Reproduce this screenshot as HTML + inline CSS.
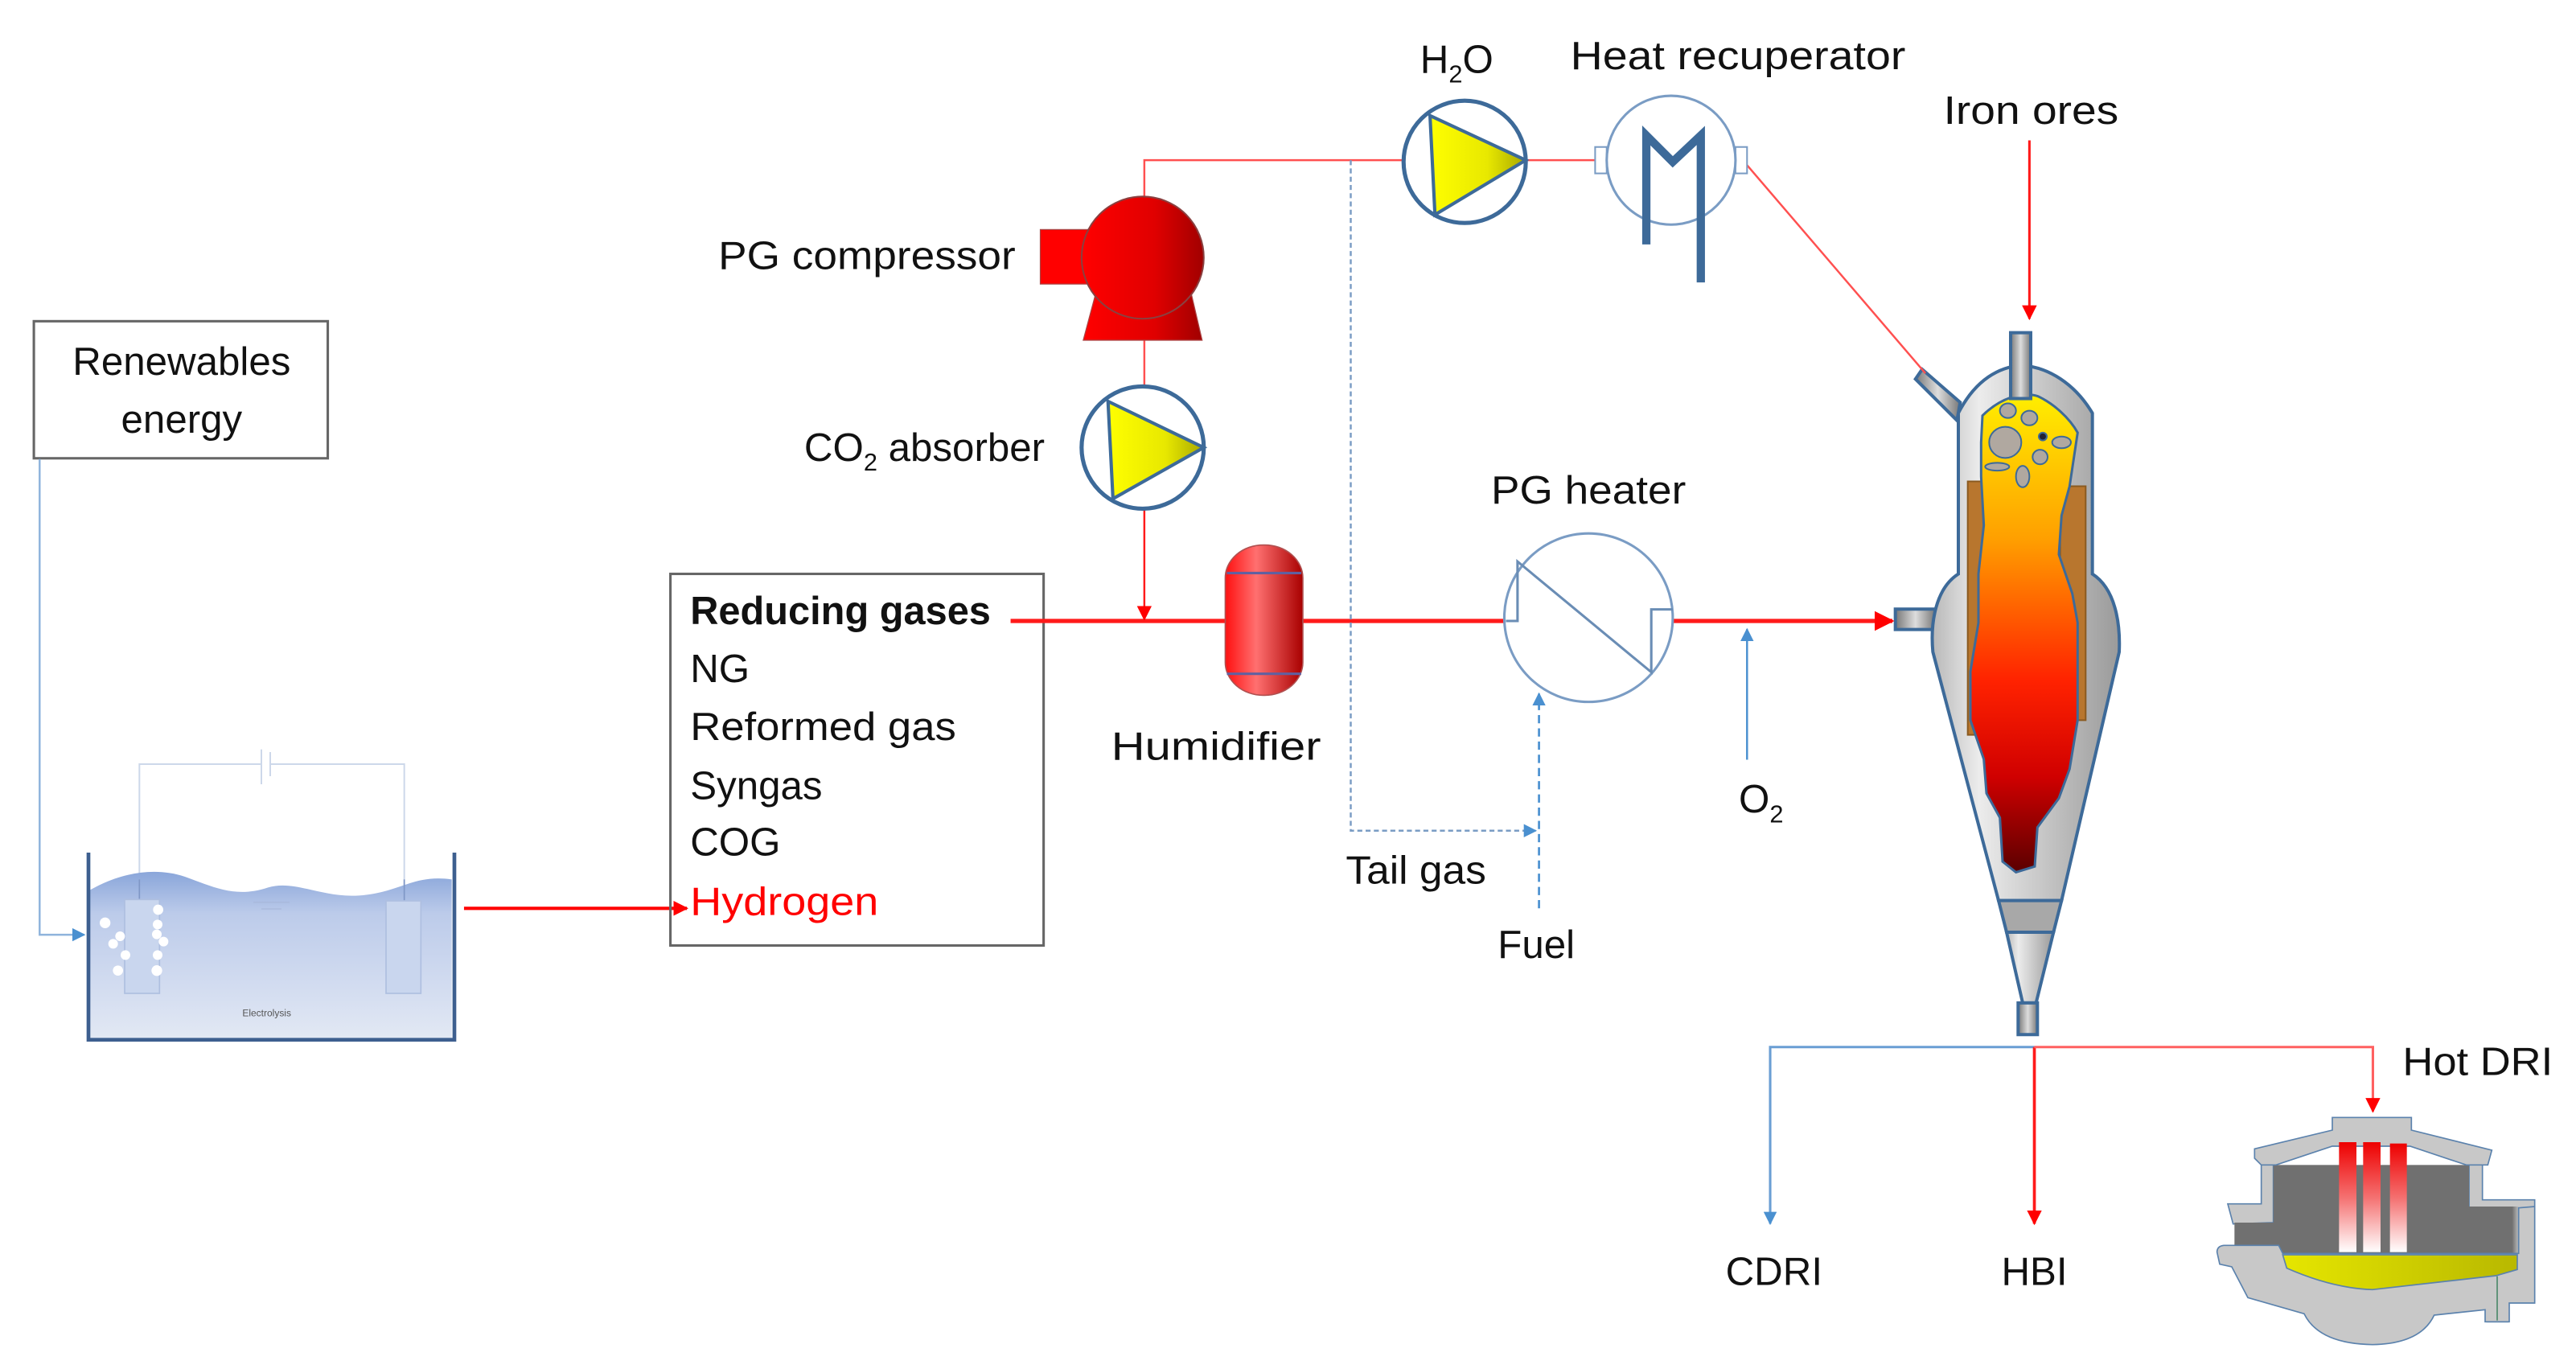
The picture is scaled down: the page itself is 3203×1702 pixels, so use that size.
<!DOCTYPE html>
<html><head><meta charset="utf-8"><style>
html,body{margin:0;padding:0;background:#fff;}
svg{display:block;}
text{font-family:"Liberation Sans",sans-serif;fill:#111;}
</style></head><body>
<svg width="3203" height="1702" viewBox="0 0 3203 1702" xmlns="http://www.w3.org/2000/svg">
<defs>
<linearGradient id="red" x1="0" x2="1" y1="0" y2="0"><stop offset="0" stop-color="#ff0000"/><stop offset="0.6" stop-color="#e00000"/><stop offset="1" stop-color="#a00000"/></linearGradient>
<linearGradient id="hum" x1="0" x2="1"><stop offset="0" stop-color="#ff1010"/><stop offset="0.4" stop-color="#ff7070"/><stop offset="1" stop-color="#a80000"/></linearGradient>
<linearGradient id="yel" x1="0" x2="1"><stop offset="0" stop-color="#ffff00"/><stop offset="0.6" stop-color="#e8e800"/><stop offset="1" stop-color="#a8a800"/></linearGradient>
<linearGradient id="hot" x1="0" x2="0" y1="0" y2="1"><stop offset="0" stop-color="#ffee00"/><stop offset="0.3" stop-color="#ffa000"/><stop offset="0.6" stop-color="#ff2200"/><stop offset="0.8" stop-color="#d00000"/><stop offset="1" stop-color="#5a0000"/></linearGradient>
<linearGradient id="shell" x1="0" x2="1"><stop offset="0" stop-color="#b8b8b8"/><stop offset="0.25" stop-color="#ececec"/><stop offset="1" stop-color="#9a9a9a"/></linearGradient>
<linearGradient id="pipe" x1="0" x2="1"><stop offset="0" stop-color="#777"/><stop offset="0.5" stop-color="#ddd"/><stop offset="1" stop-color="#777"/></linearGradient>
<linearGradient id="water" x1="0" x2="0" y1="0" y2="1"><stop offset="0" stop-color="#8aa6da"/><stop offset="0.25" stop-color="#bccbea"/><stop offset="1" stop-color="#e2e8f4"/></linearGradient>
<linearGradient id="elec" x1="0" x2="0" y1="0" y2="1"><stop offset="0" stop-color="#ee0000"/><stop offset="0.5" stop-color="#f47070"/><stop offset="1" stop-color="#ffffff"/></linearGradient>
<linearGradient id="melt" x1="0" x2="1"><stop offset="0" stop-color="#e6e600"/><stop offset="1" stop-color="#b8b800"/></linearGradient>
<linearGradient id="dark" x1="0" x2="1"><stop offset="0" stop-color="#707070"/><stop offset="0.85" stop-color="#707070"/><stop offset="1" stop-color="#d0d0d0"/></linearGradient>
<marker id="ar" viewBox="0 0 10 10" refX="9" refY="5" markerWidth="9" markerHeight="9" orient="auto" markerUnits="userSpaceOnUse"><path d="M0,0 L10,5 L0,10 Z" fill="#ff0000"/></marker>
<marker id="arB" viewBox="0 0 10 10" refX="9" refY="5" markerWidth="8" markerHeight="8" orient="auto" markerUnits="userSpaceOnUse"><path d="M0,0 L10,5 L0,10 Z" fill="#4a90d0"/></marker>
<marker id="arL" viewBox="0 0 10 10" refX="9" refY="5" markerWidth="12" markerHeight="12" orient="auto" markerUnits="userSpaceOnUse"><path d="M0,0 L10,5 L0,10 Z" fill="#ff0000"/></marker>
</defs>

<!-- Electrolysis -->
<g transform="translate(80,900) scale(0.33333)">
  <path d="M280,650 L280,150 L735,150 M768,150 L1268,150 L1268,650" fill="none" stroke="#cdd8ea" stroke-width="6"/>
  <line x1="735" y1="95" x2="735" y2="225" stroke="#cdd8ea" stroke-width="6"/>
  <line x1="768" y1="105" x2="768" y2="195" stroke="#cdd8ea" stroke-width="6"/>
  <path d="M95,620 C200,560 330,530 450,570 C560,610 640,650 760,610 C860,580 960,650 1100,640 C1250,630 1300,560 1445,580 L1445,1172 L95,1172 Z" fill="url(#water)"/>
  <line x1="280" y1="580" x2="280" y2="660" stroke="#7f97c6" stroke-width="5"/>
  <line x1="1268" y1="580" x2="1268" y2="660" stroke="#7f97c6" stroke-width="5"/>
  <rect x="225" y="655" width="130" height="350" fill="#c9d6ee" stroke="#aebfe0" stroke-width="5"/>
  <rect x="1200" y="660" width="130" height="345" fill="#c9d6ee" stroke="#aebfe0" stroke-width="5"/>
  <line x1="705" y1="665" x2="840" y2="665" stroke="#a8b8dc" stroke-width="4"/>
  <line x1="735" y1="690" x2="810" y2="690" stroke="#a8b8dc" stroke-width="4"/>
  <g fill="#fff">
    <circle cx="152" cy="742" r="20"/><circle cx="208" cy="792" r="18"/><circle cx="182" cy="820" r="18"/>
    <circle cx="228" cy="862" r="18"/><circle cx="200" cy="920" r="19"/><circle cx="350" cy="693" r="19"/>
    <circle cx="348" cy="748" r="18"/><circle cx="345" cy="785" r="18"/><circle cx="370" cy="812" r="18"/>
    <circle cx="348" cy="862" r="18"/><circle cx="345" cy="920" r="20"/>
  </g>
  <path d="M90,480 L90,1178 L1455,1178 L1455,480" fill="none" stroke="#3d5f8f" stroke-width="14"/>
  <text x="755" y="1090" font-size="36" text-anchor="middle" style="fill:#555">Electrolysis</text>
</g>

<!-- Hot DRI furnace -->
<g transform="translate(2750,1300) scale(0.33333)" stroke="#5b82ad" stroke-width="5">
  <path d="M60,590 L185,590 L185,440 L230,440 L230,660 L80,665 Z" fill="#c8c8c8"/>
  <path d="M960,440 L1010,440 L1010,575 L1205,575 L1205,610 L1150,610 L1150,775 L960,775 Z" fill="#c8c8c8"/>
  <rect x="230" y="445" width="730" height="330" fill="#707070" stroke="none"/>
  <rect x="85" y="660" width="150" height="115" fill="#707070" stroke="none"/>
  <rect x="955" y="600" width="195" height="175" fill="url(#dark)" stroke="none"/>
  <path d="M160,385 L450,315 L450,268 L745,268 L745,315 L1045,390 L1030,445 L950,445 L740,375 L450,375 L240,445 L185,445 L160,420 Z" fill="#c8c8c8"/>
  <rect x="475" y="360" width="65" height="410" fill="url(#elec)" stroke="none"/>
  <rect x="565" y="360" width="65" height="410" fill="url(#elec)" stroke="none"/>
  <rect x="665" y="365" width="63" height="405" fill="url(#elec)" stroke="none"/>
  <path d="M20,770 Q20,748 45,745 L250,745 L265,775 L1145,775 L1145,605 L1205,600 L1205,960 L1110,960 L1110,1030 L1020,1030 L1020,985 L830,1005 Q780,1112 600,1115 Q400,1112 345,1000 L135,940 L75,825 L30,815 Z" fill="#c8c8c8"/>
  <path d="M265,780 L1140,780 L1140,835 L1060,858 L600,910 Q450,905 280,830 Z" fill="url(#melt)"/>
  <line x1="1065" y1="860" x2="1065" y2="1025" stroke="#4c8a6a" stroke-width="5"/>
  <line x1="1025" y1="1030" x2="1108" y2="1030" stroke="#5b82ad"/>
</g>

<!-- DRI shaft furnace -->
<g transform="translate(2300,350) scale(0.33333,0.606)">
  <polygon points="245,200 270,180 412,248 400,285" fill="url(#pipe)" stroke="#3d6a99" stroke-width="4" vector-effect="non-scaling-stroke"/>
  <rect x="170" y="672" width="150" height="42" fill="url(#pipe)" stroke="#3d6a99" stroke-width="4" vector-effect="non-scaling-stroke"/>
  <path d="M405,600 L405,270 C470,200 560,175 640,172 C740,175 840,210 905,270 L905,600 C990,630 1010,700 1005,760 L790,1270 L555,1270 L310,760 C300,700 320,630 405,600 Z" fill="url(#shell)" stroke="#3d6a99" stroke-width="4" vector-effect="non-scaling-stroke"/>
  <path d="M555,1270 L790,1270 L760,1335 L585,1335 Z" fill="#a8a8a8" stroke="#3d6a99" stroke-width="4" vector-effect="non-scaling-stroke"/>
  <path d="M585,1335 L760,1335 L695,1480 L645,1480 Z" fill="url(#shell)" stroke="#3d6a99" stroke-width="4" vector-effect="non-scaling-stroke"/>
  <rect x="628" y="1480" width="72" height="65" fill="url(#pipe)" stroke="#3d6a99" stroke-width="4" vector-effect="non-scaling-stroke"/>
  <rect x="440" y="410" width="70" height="520" fill="#b8762e" stroke="#8a5a20" stroke-width="2" vector-effect="non-scaling-stroke"/>
  <rect x="785" y="420" width="95" height="480" fill="#b8762e" stroke="#8a5a20" stroke-width="2" vector-effect="non-scaling-stroke"/>
  <path d="M495,275 C560,240 640,225 700,235 C760,250 820,280 850,310 L820,420 L790,480 L780,560 L830,640 L850,700 L850,900 L820,1000 L780,1060 L700,1120 L690,1200 L620,1212 L570,1190 L560,1100 L510,1050 L500,980 L450,900 L450,800 L480,700 L480,600 L500,500 L490,400 L490,330 Z" fill="url(#hot)" stroke="#3d6a99" stroke-width="3" vector-effect="non-scaling-stroke"/>
  <rect x="600" y="105" width="75" height="135" fill="url(#pipe)" stroke="#3d6a99" stroke-width="4" vector-effect="non-scaling-stroke"/>
  <g fill="#b0a8a0" stroke="#3d6a99" stroke-width="2">
    <ellipse cx="580" cy="330" rx="60" ry="32" vector-effect="non-scaling-stroke"/><ellipse cx="590" cy="265" rx="30" ry="15" vector-effect="non-scaling-stroke"/>
    <ellipse cx="670" cy="280" rx="30" ry="15" vector-effect="non-scaling-stroke"/><ellipse cx="710" cy="360" rx="28" ry="15" vector-effect="non-scaling-stroke"/>
    <ellipse cx="645" cy="400" rx="25" ry="22" vector-effect="non-scaling-stroke"/><ellipse cx="550" cy="380" rx="45" ry="8" vector-effect="non-scaling-stroke"/>
    <ellipse cx="790" cy="330" rx="35" ry="12" vector-effect="non-scaling-stroke"/><ellipse cx="720" cy="318" rx="15" ry="8" fill="#223" vector-effect="non-scaling-stroke"/>
  </g>
</g>

<g transform="scale(2.0532)">
  <rect x="20.5" y="194.5" width="178" height="83" fill="#fff" stroke="#666" stroke-width="1.5"/>
  <text x="110" y="227" font-size="24" text-anchor="middle">Renewables</text>
  <text x="110" y="262" font-size="24" text-anchor="middle">energy</text>
  <path d="M24,278 L24,566 L51,566" fill="none" stroke="#8fb4dc" stroke-width="1.2" marker-end="url(#arB)"/>

  <line x1="281" y1="550" x2="416" y2="550" stroke="#ff0000" stroke-width="2" marker-end="url(#ar)"/>

  <rect x="406" y="347.5" width="226" height="225" fill="none" stroke="#666" stroke-width="1.5"/>
  <text x="418" y="378" font-size="24" font-weight="bold" textLength="182" lengthAdjust="spacingAndGlyphs">Reducing gases</text>
  <text x="418" y="413" font-size="24">NG</text>
  <text x="418" y="448" font-size="24" textLength="161" lengthAdjust="spacingAndGlyphs">Reformed gas</text>
  <text x="418" y="484" font-size="24" textLength="80" lengthAdjust="spacingAndGlyphs">Syngas</text>
  <text x="418" y="518" font-size="24">COG</text>
  <text x="418" y="554" font-size="24" style="fill:#ff0000" textLength="114" lengthAdjust="spacingAndGlyphs">Hydrogen</text>

  <line x1="612" y1="376" x2="913" y2="376" stroke="#ff1a1a" stroke-width="2.5"/>
  <line x1="1012" y1="376" x2="1146" y2="376" stroke="#ff1a1a" stroke-width="2.5" marker-end="url(#arL)"/>

  <path d="M693,120 L693,97 L850,97" fill="none" stroke="#ff5050" stroke-width="1.2"/>
  <line x1="925" y1="97" x2="968" y2="97" stroke="#ff5050" stroke-width="1.2"/>
  <line x1="1058" y1="100" x2="1166" y2="226" stroke="#ff5050" stroke-width="1.2"/>
  <line x1="693" y1="205" x2="693" y2="234" stroke="#ff5050" stroke-width="1.2"/>
  <line x1="693" y1="308" x2="693" y2="375" stroke="#ff1a1a" stroke-width="1.2" marker-end="url(#ar)"/>

  <path d="M818,97 L818,503 L930,503" fill="none" stroke="#7a9cc4" stroke-width="1.2" stroke-dasharray="3,2" marker-end="url(#arB)"/>
  <line x1="932" y1="550" x2="932" y2="420" stroke="#4a90d0" stroke-width="1.3" stroke-dasharray="5,3" marker-end="url(#arB)"/>
  <line x1="1058" y1="460" x2="1058" y2="381" stroke="#4a90d0" stroke-width="1.2" marker-end="url(#arB)"/>

  <rect x="630" y="139" width="32" height="33" fill="#ff0000" stroke="#a44" stroke-width="0.6"/>
  <path d="M664,176 L721,176 L728,206 L656,206 Z" fill="url(#red)" stroke="#a44" stroke-width="0.6"/>
  <ellipse cx="692" cy="156" rx="37" ry="37" fill="url(#red)" stroke="#8a4040" stroke-width="1"/>

  <circle cx="692" cy="271" r="37" fill="#fff" stroke="#3d6a99" stroke-width="2.5"/>
  <path d="M671,243 L729,271 L674,302 Z" fill="url(#yel)" stroke="#3d6a99" stroke-width="2"/>

  <circle cx="887" cy="98" r="37" fill="#fff" stroke="#3d6a99" stroke-width="2.5"/>
  <path d="M866,70 L924,97 L869,130 Z" fill="url(#yel)" stroke="#3d6a99" stroke-width="2"/>

  <rect x="966" y="89" width="7" height="16" fill="#fff" stroke="#7a9cc4" stroke-width="1"/>
  <rect x="1051" y="89" width="7" height="16" fill="#fff" stroke="#7a9cc4" stroke-width="1"/>
  <circle cx="1012" cy="97" r="39" fill="#fff" stroke="#7a9cc4" stroke-width="1.5"/>
  <path d="M997,148 L997,82 L1013,98 L1030,82 L1030,171" fill="none" stroke="#3d6a99" stroke-width="5"/>

  <rect x="742" y="330" width="47" height="91" rx="23" ry="20" fill="url(#hum)" stroke="#b05050" stroke-width="0.8"/>
  <line x1="743" y1="347" x2="788" y2="347" stroke="#6060a0" stroke-width="1.5"/>
  <line x1="743" y1="408" x2="788" y2="408" stroke="#6060a0" stroke-width="1.5"/>

  <circle cx="962" cy="374" r="51" fill="#fff" stroke="#7a9cc4" stroke-width="1.5"/>
  <path d="M912,376 L919,376 L919,340 L1000,407 L1000,369 L1013,369" fill="none" stroke="#6a8db5" stroke-width="1.5"/>

  <line x1="1229" y1="85" x2="1229" y2="193" stroke="#ff1a1a" stroke-width="1.5" marker-end="url(#ar)"/>

  <path d="M1232,634 L1072,634 L1072,741" fill="none" stroke="#6a9ed4" stroke-width="1.5" marker-end="url(#arB)"/>
  <line x1="1232" y1="634" x2="1232" y2="741" stroke="#ff1a1a" stroke-width="1.8" marker-end="url(#ar)"/>
  <path d="M1232,634 L1437,634 L1437,673" fill="none" stroke="#ff6060" stroke-width="1.5" marker-end="url(#ar)"/>

  <text x="435" y="163" font-size="24" textLength="180" lengthAdjust="spacingAndGlyphs">PG compressor</text>
  <text x="487" y="279" font-size="24">CO<tspan font-size="15" dy="6">2</tspan><tspan dy="-6"> absorber</tspan></text>
  <text x="860" y="44" font-size="24">H<tspan font-size="15" dy="6">2</tspan><tspan dy="-6">O</tspan></text>
  <text x="951" y="42" font-size="24" textLength="203" lengthAdjust="spacingAndGlyphs">Heat recuperator</text>
  <text x="1177" y="75" font-size="24" textLength="106" lengthAdjust="spacingAndGlyphs">Iron ores</text>
  <text x="903" y="305" font-size="24" textLength="118" lengthAdjust="spacingAndGlyphs">PG heater</text>
  <text x="673" y="460" font-size="24" textLength="127" lengthAdjust="spacingAndGlyphs">Humidifier</text>
  <text x="815" y="535" font-size="24" textLength="85" lengthAdjust="spacingAndGlyphs">Tail gas</text>
  <text x="907" y="580" font-size="24">Fuel</text>
  <text x="1053" y="492" font-size="24">O<tspan font-size="15" dy="6">2</tspan></text>
  <text x="1045" y="778" font-size="24">CDRI</text>
  <text x="1212" y="778" font-size="24">HBI</text>
  <text x="1455" y="651" font-size="24" textLength="91" lengthAdjust="spacingAndGlyphs">Hot DRI</text>
</g>
</svg>
</body></html>
